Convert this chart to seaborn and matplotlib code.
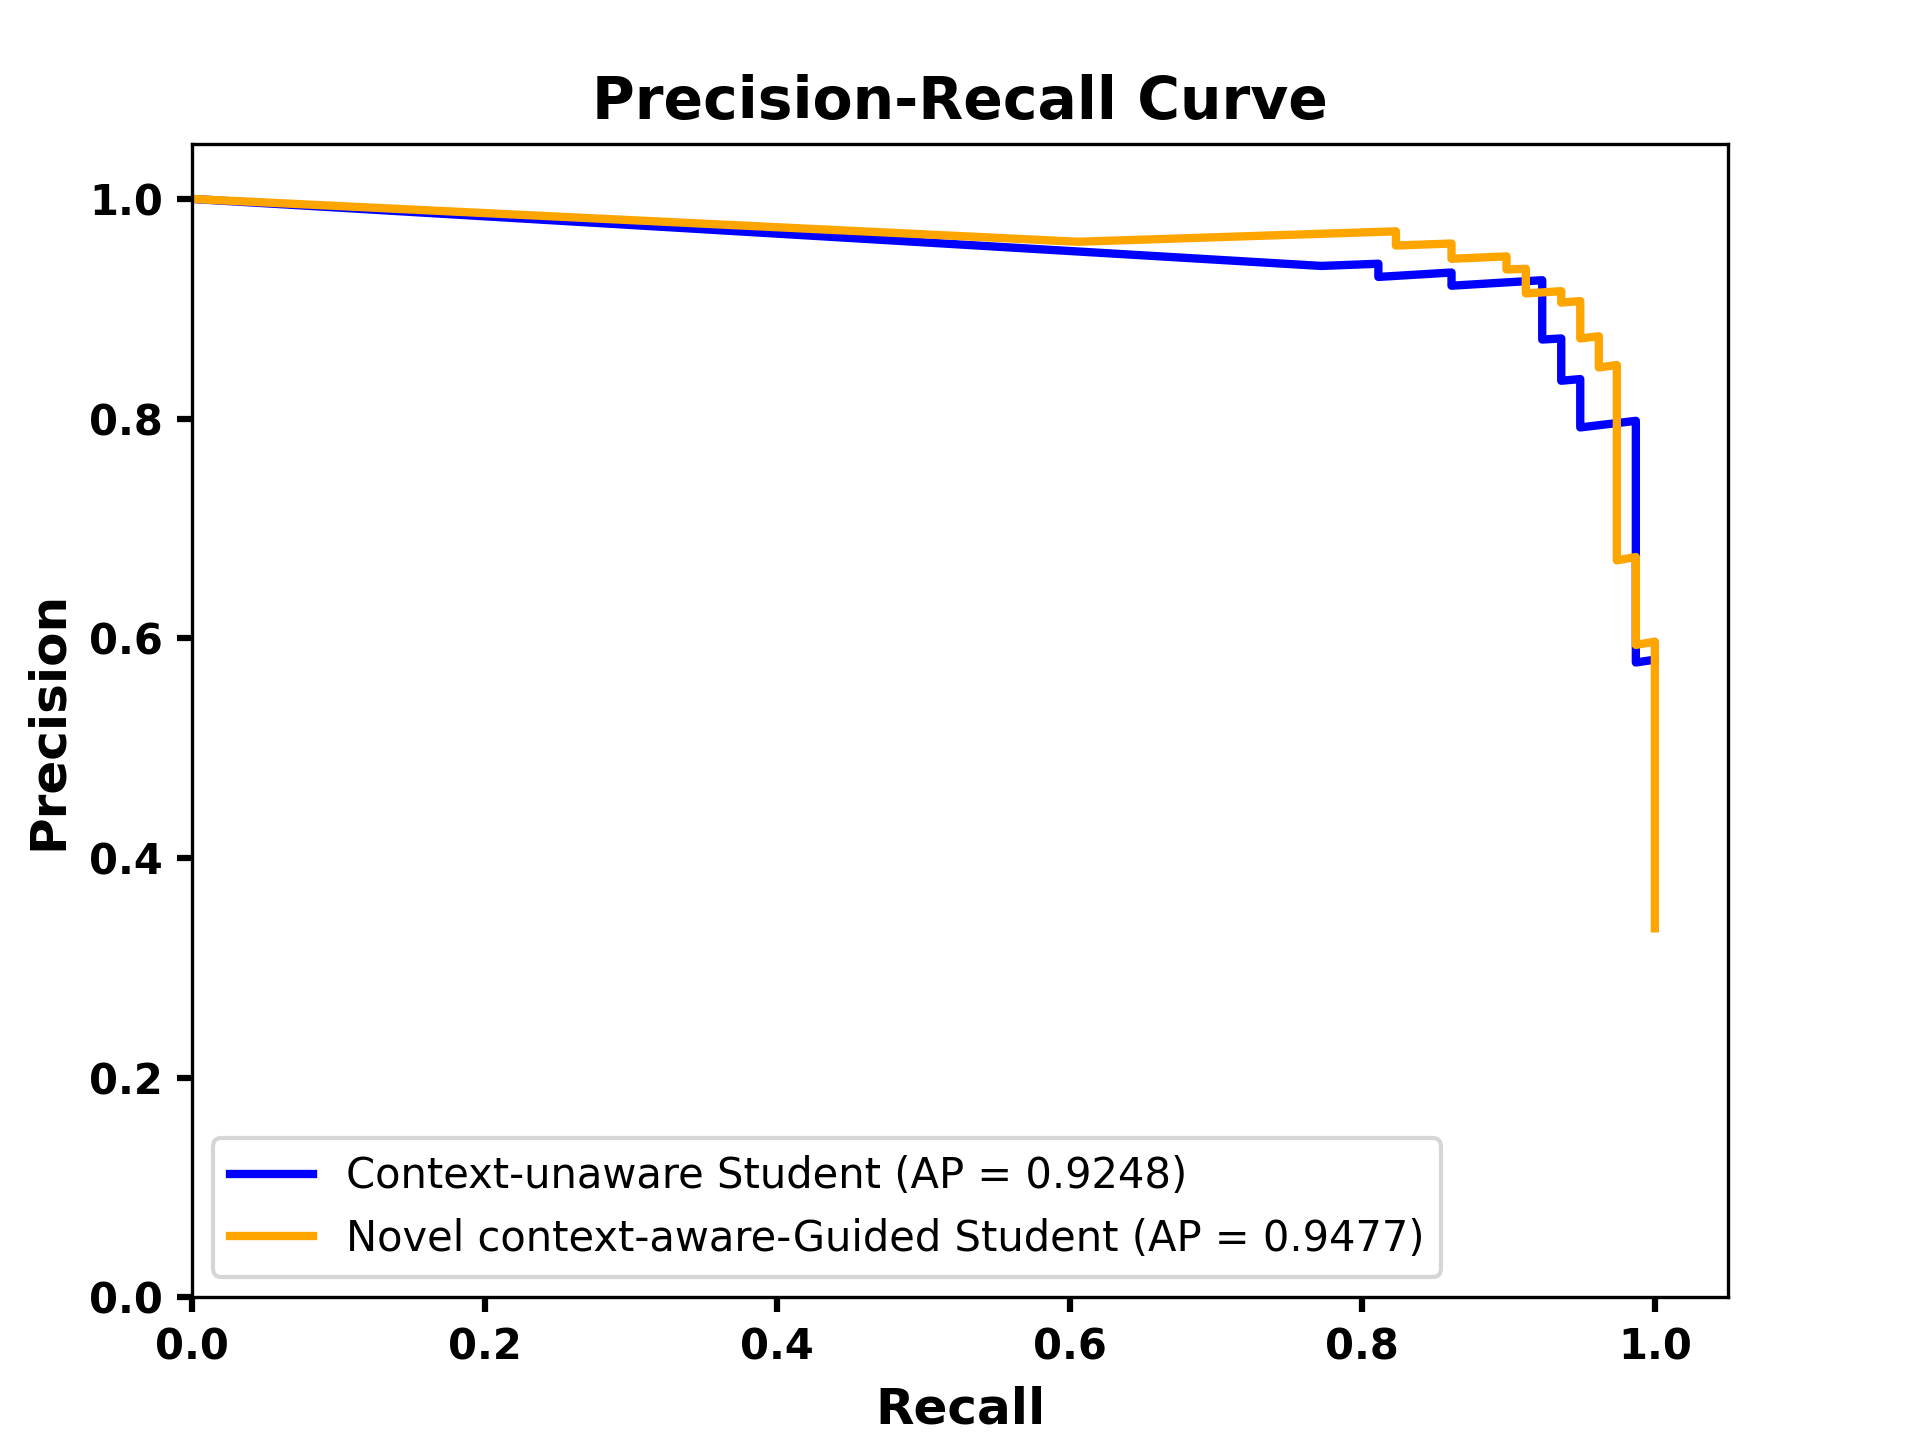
import pandas as pd
import seaborn as sns
import matplotlib.pyplot as plt

# curve vertices (recall, precision)
unaware_recall = [0.0, 0.772, 0.811, 0.811, 0.861, 0.861, 0.923, 0.923, 0.936, 0.936,
                  0.949, 0.949, 0.987, 0.987, 0.997, 1.0]
unaware_precision = [1.0, 0.939, 0.941, 0.929, 0.933, 0.921, 0.926, 0.872, 0.873, 0.8345,
                     0.836, 0.792, 0.798, 0.578, 0.580, 0.580]

aware_recall = [0.0, 0.6056, 0.823, 0.823, 0.861, 0.861, 0.8986, 0.8986, 0.9118, 0.9118,
                0.936, 0.936, 0.949, 0.949, 0.9617, 0.9617, 0.974, 0.974, 0.987, 0.987,
                1.0, 1.0]
aware_precision = [1.0, 0.961, 0.9705, 0.9576, 0.9594, 0.9455, 0.9477, 0.9358, 0.9364, 0.914,
                   0.916, 0.9056, 0.907, 0.873, 0.875, 0.8466, 0.8488, 0.671, 0.674, 0.594,
                   0.597, 0.336]

labels = ["Context-unaware Student (AP = 0.9248)",
          "Novel context-aware-Guided Student (AP = 0.9477)"]

df = pd.concat([
    pd.DataFrame({"recall": unaware_recall, "precision": unaware_precision, "model": labels[0]}),
    pd.DataFrame({"recall": aware_recall, "precision": aware_precision, "model": labels[1]}),
], ignore_index=True)

fig, ax = plt.subplots(figsize=(6.4, 4.8), dpi=300)
fig.subplots_adjust(left=0.1, right=0.9, bottom=0.099, top=0.9)

sns.lineplot(data=df, x="recall", y="precision", hue="model", sort=False, estimator=None,
             palette={labels[0]: "blue", labels[1]: "orange"}, linewidth=2, ax=ax)

ax.set_xlim(0, 1.05)
ax.set_ylim(0, 1.05)
ax.set_title("Precision-Recall Curve", fontsize=14, fontweight="bold")
ax.set_xlabel("Recall", fontsize=12, fontweight="bold")
ax.set_ylabel("Precision", fontsize=12, fontweight="bold")
for t in ax.get_xticklabels() + ax.get_yticklabels():
    t.set_fontweight("bold")
ax.tick_params(width=1.5)

ax.legend(loc="lower left", fontsize=10)

fig.savefig("out.png", dpi=300)
